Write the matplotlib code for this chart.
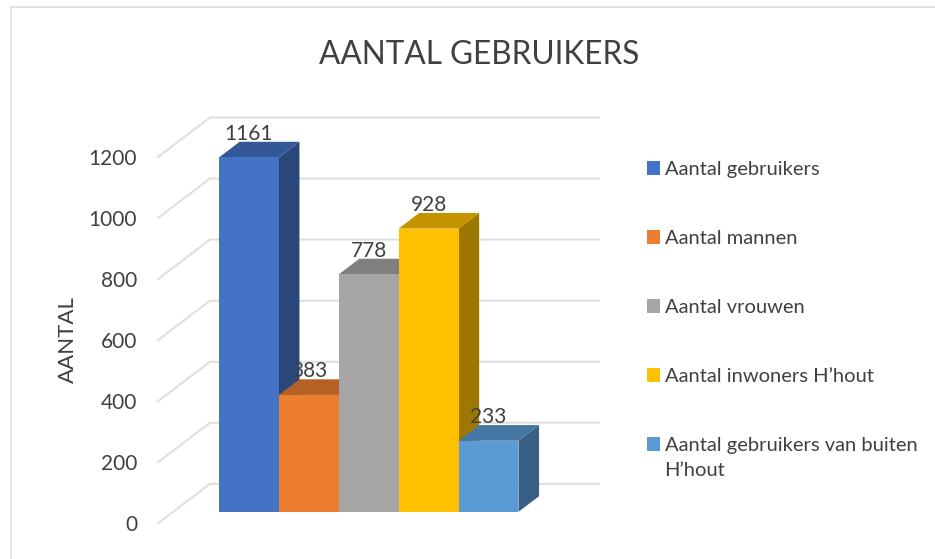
import matplotlib
matplotlib.use("Agg")
import matplotlib.pyplot as plt
from matplotlib.lines import Line2D
from matplotlib.patches import Patch
import matplotlib.colors as mcolors

plt.rcParams['font.family'] = ['Lato', 'DejaVu Sans']

categories = ['Aantal gebruikers', 'Aantal mannen', 'Aantal vrouwen',
              'Aantal inwoners H\u2019hout', 'Aantal gebruikers van buiten\nH\u2019hout']
values = [1161, 383, 778, 928, 233]
colors = ['#4472C4', '#ED7D31', '#A5A5A5', '#FFC000', '#5B9BD5']
yticks = [0, 200, 400, 600, 800, 1000, 1200]

W, H = 935, 559
TXT = '#404040'
GRID = '#dedede'

fig = plt.figure(figsize=(W / 100, H / 100), dpi=100)

# front plane of the fake 3d box, in pixels
left, right, y0, y1 = 158, 547, 523.3, 157
ax = fig.add_axes([left / W, 1 - y0 / H, (right - left) / W, (y0 - y1) / H])
ax.set_ylim(0, 1200)
ax.set_xlim(-1.266, 5.228)
ax.set_facecolor('none')
for s in ax.spines.values():
    s.set_visible(False)

px_x = (right - left) / (5.228 + 1.266)
px_y = (y0 - y1) / 1200
# depth of the box, in data units
DX = 52 / px_x
DY = 39.5 / px_y
d_front = 0.29
d_back = 0.686

# walls
for t in yticks:
    ax.plot([-1.266, -1.266 + DX, 5.228 + DX], [t, t + DY, t + DY], color=GRID,
            lw=1.4, clip_on=False, zorder=1)


def darker(c, f):
    r, g, b = mcolors.to_rgb(c)
    return (r * f, g * f, b * f)


# bars from left to right so the next one covers the side of the previous
for i, v in enumerate(values):
    x0 = i - 0.5 + d_front * DX
    x1 = i + 0.5 + d_front * DX
    bot = d_front * DY
    sx = (d_back - d_front) * DX
    sy = (d_back - d_front) * DY
    z = 3 + i
    ax.fill([x1, x1 + sx, x1 + sx, x1], [bot, bot + sy, bot + v + sy, bot + v],
            color=darker(colors[i], 0.62), lw=0, clip_on=False, zorder=z)
    ax.fill([x0, x1, x1 + sx, x0 + sx], [bot + v, bot + v, bot + v + sy, bot + v + sy],
            color=darker(colors[i], 0.77), lw=0, clip_on=False, zorder=z)
    ax.bar(x0 + 0.5, v, width=1, bottom=bot, color=colors[i], lw=0, zorder=z, clip_on=False)
    ax.text(x0 + 0.5, bot + v + sy - 6, str(v), ha='center', va='bottom', fontsize=15,
            color=TXT, zorder=20)

ax.set_xticks([])
ax.set_yticks(yticks)
ax.tick_params(axis='y', length=0, pad=15, labelsize=15, labelcolor=TXT)
ax.set_ylabel('AANTAL', fontsize=16, color=TXT)
ax.yaxis.set_label_coords((78 - left) / (right - left), (y0 - 340) / (y0 - y1))

fig.text(479.5 / W, 1 - 55 / H, 'AANTAL GEBRUIKERS', ha='center', va='center', fontsize=22.7, color=TXT)

handles = [Patch(color=c, lw=0) for c in colors]
leg = fig.legend(handles, categories, loc='upper left', bbox_to_anchor=(647 / W, 1 - 161 / H),
                 frameon=False, fontsize=14.5, labelcolor=TXT, handlelength=0.67, handleheight=0.67,
                 handletextpad=0.2, labelspacing=2.58, borderpad=0, borderaxespad=0)
for t in leg.get_texts():
    t.set_linespacing(1.6)
# the square of the two line entry sits on its first line
p = leg.get_patches()[4]
p.set_y(p.get_y() + 10)

# chart frame, only top and left fall inside the crop
fig.add_artist(Line2D([10.5 / W, 10.5 / W, 1], [0, 1 - 7 / H, 1 - 7 / H], color='#e2e2e2', lw=1.4))

fig.savefig('out.png', dpi=100)
